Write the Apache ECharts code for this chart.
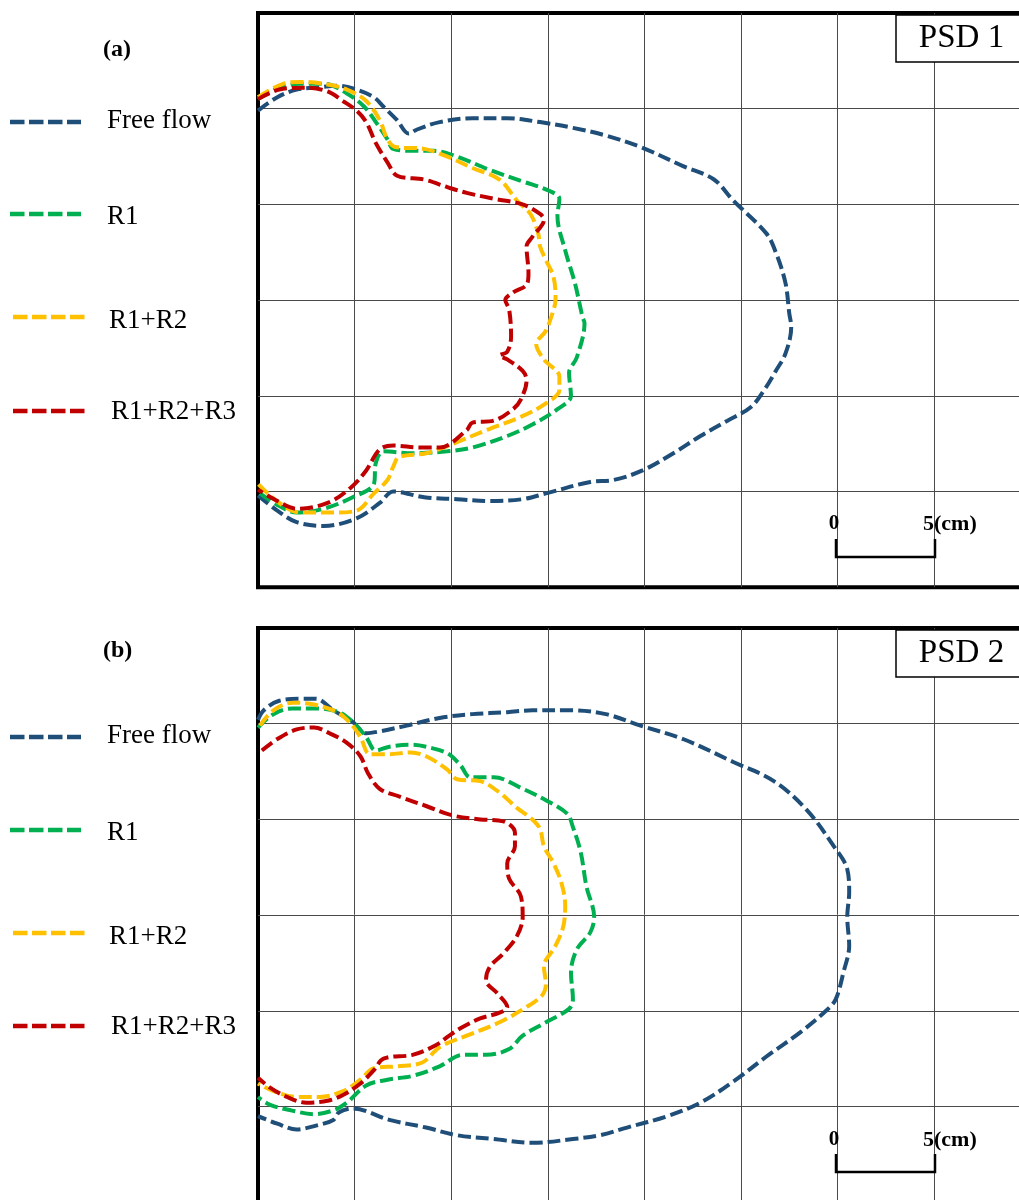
<!DOCTYPE html>
<html>
<head>
<meta charset="utf-8">
<script src="https://cdn.jsdelivr.net/npm/echarts@6/dist/echarts.min.js"></script>
<style>
html,body{margin:0;padding:0;background:#fff;}
#chart{width:1019px;height:1200px;}
</style>
</head>
<body>
<div id="chart"></div>
<script>
// ---------- data (cm) ----------
const seriesNames = ['Free flow', 'R1', 'R1+R2', 'R1+R2+R3'];
const panelLabels = ['(a)', '(b)'];
const panelTitles = ['PSD 1', 'PSD 2'];
const scaleLabels = ['0', '5(cm)'];
const xTickInterval = 5;   // cm per grid cell
const xMax = 40;
const yMax = 30;

// Panel (a) PSD 1
const psd1FreeFlow = [[0,24.9],[1.0,25.6],[2.0,26.0],[3.0,26.1],[4.1,26.2],[5.1,26.0],[6.0,25.6],[6.5,25.1],[7.2,24.4],[7.8,23.7],[8.2,23.9],[9.4,24.3],[11.1,24.5],[12.9,24.5],[14.6,24.3],[16.3,24.0],[18.0,23.6],[19.8,23.0],[22.0,22.0],[23.6,21.3],[24.6,20.2],[26.3,18.5],[26.8,17.5],[27.3,15.9],[27.5,14.3],[27.6,13.6],[27.3,12.2],[26.8,11.3],[26.2,10.3],[25.5,9.4],[24.3,8.7],[22.9,7.9],[21.5,7.0],[19.9,6.1],[18.4,5.6],[17.2,5.5],[14.9,4.9],[13.7,4.6],[12.0,4.5],[10.3,4.6],[8.6,4.7],[7.0,5.0],[6.3,4.4],[5.1,3.6],[3.4,3.2],[2.0,3.4],[1.0,4.0],[0,4.8]];
const psd1R1 = [[0,25.5],[1.1,26.1],[2.2,26.3],[3.4,26.3],[4.6,25.8],[5.5,25.1],[6.1,24.3],[6.7,23.4],[7.0,22.9],[8.0,22.8],[9.1,22.8],[10.3,22.5],[12.0,21.8],[13.7,21.2],[15.1,20.7],[15.6,20.3],[15.5,19.4],[15.9,17.6],[16.4,15.9],[16.8,14.1],[16.9,13.8],[16.5,12.0],[16.1,11.2],[16.2,10.0],[15.5,9.3],[14.2,8.5],[12.9,7.9],[11.1,7.3],[9.8,7.1],[8.0,7.0],[6.5,7.1],[6.1,6.5],[6.0,5.4],[4.9,4.7],[3.4,4.1],[2.0,3.9],[1.0,4.3],[0.1,4.9]];
const psd1R1R2 = [[0,25.6],[1.3,26.3],[2.2,26.4],[3.4,26.3],[4.6,26.0],[5.6,25.4],[6.3,24.4],[6.7,23.4],[7.1,23.0],[8.6,22.9],[9.8,22.5],[11.1,21.9],[12.5,21.3],[13.4,20.2],[14.1,19.5],[14.5,18.5],[14.6,17.8],[14.9,17.1],[15.3,16.2],[15.4,15.0],[15.3,14.5],[14.9,13.4],[14.4,12.7],[14.8,11.9],[15.6,11.0],[15.6,10.3],[14.9,9.6],[13.6,8.9],[11.8,8.2],[10.1,7.5],[8.7,7.0],[7.3,6.8],[7.0,6.3],[6.7,5.6],[6.0,4.9],[5.1,4.0],[3.9,3.9],[2.2,3.9],[1.1,4.4],[0,5.4]];
const psd1R1R2R3 = [[0,25.5],[1.1,26.0],[2.5,26.1],[3.6,25.9],[4.4,25.4],[5.1,24.9],[5.6,24.3],[6.1,23.2],[6.7,22.2],[7.2,21.5],[8.6,21.3],[9.8,20.9],[10.8,20.6],[12.2,20.3],[13.7,20.0],[14.6,19.5],[14.8,19.2],[14.2,18.3],[13.9,17.8],[14.0,16.4],[13.9,15.8],[13.2,15.4],[12.8,15.0],[13.0,14.5],[13.1,13.1],[12.9,12.3],[12.5,12.1],[12.9,11.9],[13.7,11.3],[13.9,10.8],[13.6,9.8],[13.2,9.3],[12.2,8.7],[11.1,8.6],[10.8,8.2],[9.4,7.3],[8.4,7.3],[7.0,7.4],[6.3,7.2],[5.6,6.1],[4.8,5.2],[3.6,4.4],[2.0,4.1],[1.0,4.5],[0,5.1]];

// Panel (b) PSD 2
const psd2FreeFlow = [[0,25.2],[0.3,25.7],[1.1,26.2],[2.2,26.3],[3.0,26.3],[3.9,25.7],[4.9,25.1],[5.6,24.5],[6.3,24.6],[7.7,24.9],[9.4,25.3],[11.1,25.5],[12.9,25.6],[14.2,25.7],[16.3,25.7],[18.0,25.5],[19.8,24.9],[22.0,24.2],[24.6,23.0],[26.7,22.0],[28.4,20.5],[29.8,18.6],[30.5,17.4],[30.6,16.2],[30.5,14.9],[30.6,13.4],[30.3,12.0],[29.9,10.6],[29.4,10.0],[28.1,8.9],[26.3,7.6],[24.6,6.3],[22.9,5.2],[21.2,4.5],[19.1,3.9],[17.7,3.5],[16.3,3.3],[14.2,3.1],[12.2,3.3],[10.3,3.5],[8.7,3.9],[6.8,4.3],[4.9,4.9],[4.2,4.7],[3.9,4.3],[3.0,4.0],[2.0,3.8],[1.0,4.1],[0,4.5]];
const psd2R1 = [[0,24.8],[0.8,25.5],[1.8,25.8],[3.0,25.8],[4.2,25.6],[5.0,25.0],[5.6,24.3],[6.1,23.6],[6.8,23.8],[7.9,23.9],[9.1,23.7],[9.9,23.4],[10.5,22.8],[11.0,22.2],[12.2,22.2],[13.7,21.6],[14.9,21.0],[16.0,20.3],[16.3,19.6],[16.7,18.3],[17.0,16.5],[17.4,14.9],[17.2,14.1],[16.5,13.2],[16.2,12.0],[16.3,10.6],[16.1,10.1],[14.9,9.4],[13.7,8.7],[13.0,8.0],[11.8,7.7],[10.6,7.7],[9.4,7.1],[8.0,6.6],[6.7,6.4],[5.6,6.1],[4.6,5.2],[3.9,4.8],[2.9,4.6],[1.7,4.8],[0.6,5.1],[0,5.5]];
const psd2R1R2 = [[0.1,24.9],[0.8,25.7],[1.8,26.1],[2.9,26.0],[4.1,25.6],[4.8,25.0],[5.3,24.3],[5.8,23.4],[6.7,23.4],[7.9,23.5],[8.7,23.3],[9.8,22.6],[10.3,22.1],[11.5,22.0],[12.5,21.4],[13.4,20.6],[14.2,20.0],[14.6,19.5],[14.8,18.6],[15.3,17.7],[15.7,16.7],[15.9,15.5],[15.8,14.4],[15.4,13.4],[14.8,12.3],[14.9,11.4],[14.7,10.8],[13.9,10.2],[12.5,9.4],[10.8,8.7],[9.4,8.1],[8.5,7.3],[7.2,7.1],[6.0,7.0],[5.3,6.4],[4.4,5.8],[3.2,5.5],[2.0,5.5],[0.8,5.8],[0,6.2]];
const psd2R1R2R3 = [[0.2,23.6],[1.0,24.2],[2.0,24.7],[2.9,24.8],[3.7,24.5],[4.6,24.0],[5.3,23.3],[5.7,22.4],[6.3,21.6],[7.3,21.2],[8.7,20.7],[10.1,20.2],[11.5,20.0],[12.7,19.9],[13.3,19.3],[13.3,18.6],[12.9,17.7],[13.0,16.9],[13.6,16.0],[13.7,14.9],[13.4,13.9],[12.7,13.0],[12.0,12.3],[11.8,11.6],[12.4,10.9],[12.9,10.2],[12.5,9.9],[11.5,9.6],[10.5,9.1],[9.9,8.7],[9.2,8.2],[8.0,7.7],[6.5,7.5],[6.0,6.9],[5.3,6.2],[4.4,5.6],[3.6,5.3],[2.5,5.2],[1.5,5.5],[0.6,6.0],[0,6.5]];

const panelData = [
  [psd1FreeFlow, psd1R1, psd1R1R2, psd1R1R2R3],
  [psd2FreeFlow, psd2R1, psd2R1R2, psd2R1R2R3]
];

// ---------- styles / layout ----------
const colors = ['#1F4E79', '#00B050', '#FFC000', '#C00000'];
const serif = '"Liberation Serif","Times New Roman",serif';
const panelTop = [13, 628];
const gridLeft = 258, cellW = 96.6, cellH = 95.7;

const chart = echarts.init(document.getElementById('chart'), null, {renderer: 'canvas'});

const grids = [], xAxes = [], yAxes = [], series = [], graphics = [];
panelTop.forEach((top, p) => {
  grids.push({
    left: gridLeft, top: top, width: cellW * xMax / xTickInterval, height: cellH * yMax / xTickInterval,
    outerBoundsMode: 'none',
    show: true, borderColor: '#000', borderWidth: 4, backgroundColor: 'transparent', containLabel: false
  });
  const axisCommon = {
    gridIndex: p, type: 'value', min: 0, interval: xTickInterval,
    axisLine: {show: false}, axisTick: {show: false}, axisLabel: {show: false},
    splitLine: {show: true, showMinLine: false, showMaxLine: false, lineStyle: {color: '#4a4a4a', width: 1}}
  };
  xAxes.push(Object.assign({}, axisCommon, {max: xMax}));
  yAxes.push(Object.assign({}, axisCommon, {max: yMax}));
  seriesNames.forEach((name, i) => {
    series.push({
      name: name, type: 'line', xAxisIndex: p, yAxisIndex: p,
      data: panelData[p][i], showSymbol: false, symbol: 'none',
      smooth: 0.35, clip: true, z: 2 + i,
      lineStyle: {color: colors[i], width: 4, type: [13, 5], cap: 'butt'}
    });
  });
});

// legend blocks, panel labels, title boxes, scale bars
const legendLineY = [[122, 214, 317, 411], [737, 830, 933, 1026]];
const legendTextY = [[121, 217, 321, 412], [736, 833, 937, 1027]];
const legendLineX = [[10, 81], [10, 81], [13, 85], [13, 85]];
const legendTextX = [107, 107, 109, 111];
const panelLabelY = [49, 650];
const boxBottom = [62, 677];
const scaleTextY = [524, 1140];
const scaleBarTop = [539, 1154];
const scaleBarBottom = [557, 1172];

[0, 1].forEach(p => {
  graphics.push({
    type: 'text', z: 10, x: 103, y: panelLabelY[p] + 1,
    style: {text: panelLabels[p], font: 'bold 24px ' + serif, fill: '#000', textVerticalAlign: 'middle', verticalAlign: 'middle'}
  });
  seriesNames.forEach((name, i) => {
    graphics.push({
      type: 'line', z: 10,
      shape: {x1: legendLineX[i][0], y1: legendLineY[p][i], x2: legendLineX[i][1], y2: legendLineY[p][i]},
      style: {stroke: colors[i], lineWidth: 4.5, lineDash: [14.5, 4.5]}
    });
    graphics.push({
      type: 'text', z: 10, x: legendTextX[i], y: legendTextY[p][i],
      style: {text: name, font: '27px ' + serif, fill: '#000', textVerticalAlign: 'middle', verticalAlign: 'middle'}
    });
  });
  // PSD box
  graphics.push({
    type: 'rect', z: 20,
    shape: {x: 896, y: panelTop[p] + 2, width: 200, height: boxBottom[p] - panelTop[p] - 2},
    style: {fill: '#fff', stroke: '#000', lineWidth: 1.5}
  });
  graphics.push({
    type: 'text', z: 21, x: 961.5, y: (panelTop[p] + boxBottom[p]) / 2 + 1,
    style: {text: panelTitles[p], font: '33px ' + serif, fill: '#000', align: 'center', textAlign: 'center', textVerticalAlign: 'middle', verticalAlign: 'middle'}
  });
  // scale bar
  graphics.push({
    type: 'polyline', z: 20,
    shape: {points: [[836, scaleBarTop[p]], [836, scaleBarBottom[p]], [935, scaleBarBottom[p]], [935, scaleBarTop[p]]]},
    style: {stroke: '#000', lineWidth: 2.5, fill: null}
  });
  graphics.push({
    type: 'text', z: 21, x: 834, y: scaleTextY[p],
    style: {text: scaleLabels[0], font: 'bold 21px ' + serif, fill: '#000', align: 'center', textAlign: 'center', textVerticalAlign: 'middle', verticalAlign: 'middle'}
  });
  graphics.push({
    type: 'text', z: 21, x: 923, y: scaleTextY[p],
    style: {text: scaleLabels[1], font: 'bold 22px ' + serif, fill: '#000', textVerticalAlign: 'middle', verticalAlign: 'middle'}
  });
});

chart.setOption({
  animation: false,
  backgroundColor: '#fff',
  grid: grids,
  xAxis: xAxes,
  yAxis: yAxes,
  series: series,
  graphic: graphics
});
</script>
</body>
</html>
